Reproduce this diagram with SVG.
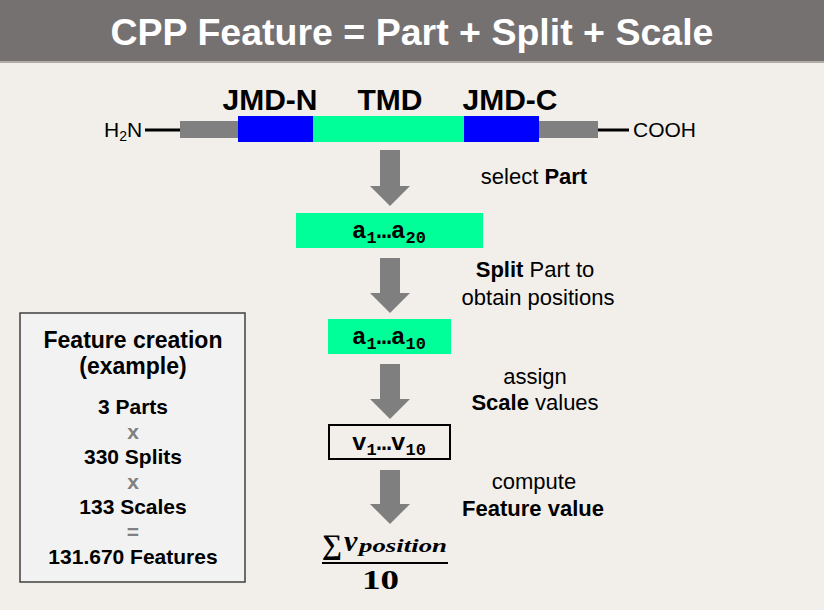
<svg xmlns="http://www.w3.org/2000/svg" width="824" height="610" viewBox="0 0 824 610">
<style>
.sans{font-family:"Liberation Sans",Arial,sans-serif}
.b{font-weight:bold}
.lbl{font-family:"Liberation Sans",Arial,sans-serif;font-size:22px;fill:#000;text-anchor:middle}
.mono{font-family:"Liberation Mono","Courier New",monospace;font-weight:bold;font-size:24px;fill:#000;text-anchor:middle}
.sub{font-size:17px}
.box{font-family:"Liberation Sans",Arial,sans-serif;font-weight:bold;font-size:21px;fill:#000;text-anchor:middle}
.box.hd{font-size:23px}
.op{fill:#808080}
.arrow{fill:#7f7f7f}
.serif{font-family:"Liberation Serif","Times New Roman",serif;font-weight:bold}
</style>
<rect x="0" y="0" width="824" height="610" fill="#f2efeb"/>
<g id="header">
<rect x="0" y="0" width="824" height="61" fill="#767171"/>
<rect x="0" y="61" width="824" height="2" fill="#b3aca4"/>
<text x="412" y="45" class="sans b" font-size="37" fill="#fff" text-anchor="middle" textLength="603" lengthAdjust="spacingAndGlyphs">CPP Feature = Part + Split + Scale</text>
</g>
<g id="protein">
<line x1="145" y1="130" x2="180" y2="130" stroke="#000" stroke-width="3"/>
<line x1="598" y1="130" x2="629" y2="130" stroke="#000" stroke-width="3"/>
<rect x="180" y="121" width="58" height="17" fill="#808080"/>
<rect x="539" y="121" width="59" height="17" fill="#808080"/>
<rect x="238" y="116" width="75" height="26" fill="#0000ff"/>
<rect x="313" y="116" width="151" height="26" fill="#00ff99"/>
<rect x="464" y="116" width="75" height="26" fill="#0000ff"/>
<text x="104" y="137" class="sans" font-size="21">H<tspan font-size="14" dy="4">2</tspan><tspan dy="-4">N</tspan></text>
<text x="633" y="137" class="sans" font-size="21">COOH</text>
<text x="270" y="110" class="sans b" font-size="30" text-anchor="middle">JMD-N</text>
<text x="390" y="110" class="sans b" font-size="30" text-anchor="middle">TMD</text>
<text x="510" y="110" class="sans b" font-size="30" text-anchor="middle">JMD-C</text>
</g>
<g id="connectors">
<path class="arrow" d="M380 150H400V186H410L390 206L370 186H380Z"/>
<path class="arrow" d="M380 258H400V293H410L390 313L370 293H380Z"/>
<path class="arrow" d="M380 364H400V399H410L390 419L370 399H380Z"/>
<path class="arrow" d="M380 470H400V504H410L390 524L370 504H380Z"/>
</g>
<g id="part">
<rect x="296" y="213" width="187" height="35" fill="#00ff99"/>
<text x="389" y="238" class="mono">a<tspan class="sub" dy="5">1</tspan><tspan dy="-5">…a</tspan><tspan class="sub" dy="5">20</tspan></text>
</g>
<g id="split">
<rect x="328" y="319" width="123" height="35" fill="#00ff99"/>
<text x="389" y="344" class="mono">a<tspan class="sub" dy="5">1</tspan><tspan dy="-5">…a</tspan><tspan class="sub" dy="5">10</tspan></text>
</g>
<g id="scale">
<rect x="329" y="425" width="121" height="34" fill="#f2efeb" stroke="#000" stroke-width="2"/>
<text x="389" y="450" class="mono">v<tspan class="sub" dy="5">1</tspan><tspan dy="-5">…v</tspan><tspan class="sub" dy="5">10</tspan></text>
</g>
<g id="feature">
<text x="322" y="554" class="serif" font-size="28" textLength="20" lengthAdjust="spacingAndGlyphs">∑</text>
<text x="344" y="551" class="serif" font-size="30" font-style="italic">v</text>
<text x="359" y="552" class="serif" font-size="19" font-style="italic" textLength="88" lengthAdjust="spacingAndGlyphs">position</text>
<line x1="322" y1="563" x2="448" y2="563" stroke="#000" stroke-width="2"/>
<text x="362" y="589" class="serif" font-size="27" textLength="37" lengthAdjust="spacingAndGlyphs">10</text>
</g>
<g id="labels">
<text x="534" y="184" class="lbl">select <tspan class="b">Part</tspan></text>
<text x="535" y="277" class="lbl"><tspan class="b">Split</tspan> Part to</text>
<text x="538" y="305" class="lbl">obtain positions</text>
<text x="535" y="384" class="lbl">assign</text>
<text x="535" y="410" class="lbl"><tspan class="b">Scale</tspan> values</text>
<text x="534" y="489" class="lbl">compute</text>
<text x="533" y="516" class="lbl b">Feature value</text>
</g>
<g id="creation-box">
<rect x="20" y="313" width="225" height="269" fill="#f2f2f2" stroke="#404040" stroke-width="1.5"/>
<text x="133" y="348" class="box hd">Feature creation</text>
<text x="133" y="374" class="box hd">(example)</text>
<text x="133" y="414" class="box">3 Parts</text>
<text x="133" y="439" class="box op">x</text>
<text x="133" y="464" class="box">330 Splits</text>
<text x="133" y="489" class="box op">x</text>
<text x="133" y="514" class="box">133 Scales</text>
<text x="133" y="539" class="box op">=</text>
<text x="133" y="564" class="box">131.670 Features</text>
</g>
</svg>
